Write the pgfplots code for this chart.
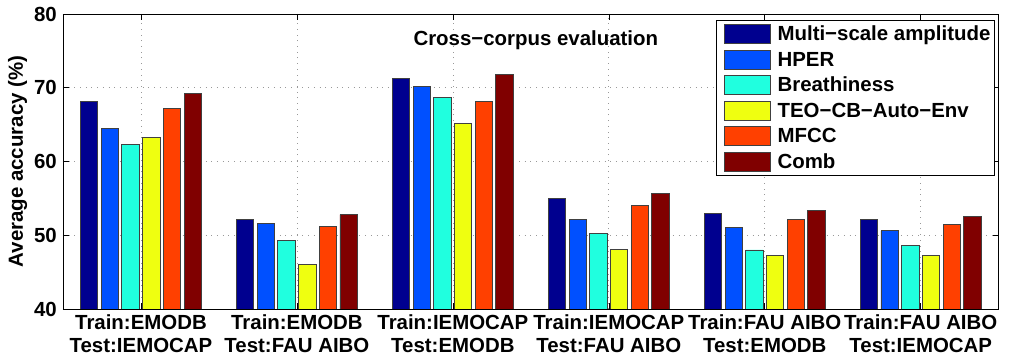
\documentclass[border=0pt]{standalone}
\usepackage{fontspec}
\setmainfont{Liberation Sans}
\usepackage{pgfplots}
\pgfplotsset{compat=1.18}

\definecolor{cMulti}{RGB}{0,0,143}
\definecolor{cHPER}{RGB}{0,80,255}
\definecolor{cBreath}{RGB}{32,255,223}
\definecolor{cTEO}{RGB}{239,255,16}
\definecolor{cMFCC}{RGB}{255,64,0}
\definecolor{cComb}{RGB}{128,0,0}

\newcommand{\lblfont}{\bfseries\fontsize{20.5}{23}\selectfont}

\begin{document}
\begin{tikzpicture}
\useasboundingbox (-63bp,-51bp) rectangle (949bp,309bp);
\begin{axis}[
  at={(0,0)}, anchor=south west,
  scale only axis,
  width=935.7bp, height=295bp,
  xmin=-0.5, xmax=5.5,
  ymin=40, ymax=80,
  xtick={0,1,2,3,4,5},
  xticklabels={{Train:EMODB\\Test:IEMOCAP},{Train:EMODB\\Test:FAU AIBO},{Train:IEMOCAP\\Test:EMODB},{Train:IEMOCAP\\Test:FAU AIBO},{Train:FAU AIBO\\Test:EMODB},{Train:FAU AIBO\\Test:IEMOCAP}},
  ytick={40,50,60,70,80},
  tick align=inside, tick pos=both,
  major tick length=6bp,
  tick style={black, line width=0.6bp},
  axis line style={black, line width=0.8bp},
  xmajorgrids, ymajorgrids,
  grid style={gray!80, line width=0.7bp, dash pattern=on 0.7bp off 5bp},
  /pgf/number format/assume math mode=true,
  ticklabel style={font=\lblfont},
  xticklabel style={align=center, inner sep=0pt, yshift=-6bp},
  yticklabel style={inner sep=0pt, xshift=-6bp},
  ylabel={Average accuracy (\%)},
  ylabel style={font=\lblfont, at={(axis description cs:-0.0486,0.5)}, anchor=center},
  legend style={
    at={(rel axis cs:0.9955,0.9797)}, anchor=north east,
    draw=black, line width=0.8bp, fill=white,
    font=\lblfont, row sep=5.6bp,
    inner xsep=0.5bp, inner ysep=4bp,
    nodes={inner xsep=3.2bp, inner ysep=0bp},
  },
  legend cell align=left,
  legend image code/.code={%
    \path (0bp,0bp) (57bp,0bp);
    \draw[#1] (7.8bp,-9.5bp) rectangle (53.8bp,9.5bp);},
  every axis plot/.append style={draw=black!75, line width=0.9bp},
]
\addplot[ybar, bar width=0.112, bar shift=-0.332, fill=cMulti] coordinates {(0,68.2) (1,52.1) (2,71.2) (3,55.0) (4,53.0) (5,52.2)};
\addlegendentry{Multi−scale amplitude}
\addplot[ybar, bar width=0.112, bar shift=-0.199, fill=cHPER] coordinates {(0,64.5) (1,51.6) (2,70.2) (3,52.2) (4,51.0) (5,50.6)};
\addlegendentry{HPER}
\addplot[ybar, bar width=0.112, bar shift=-0.066, fill=cBreath] coordinates {(0,62.3) (1,49.3) (2,68.7) (3,50.2) (4,48.0) (5,48.6)};
\addlegendentry{Breathiness}
\addplot[ybar, bar width=0.112, bar shift=0.066, fill=cTEO] coordinates {(0,63.2) (1,46.0) (2,65.2) (3,48.1) (4,47.2) (5,47.3)};
\addlegendentry{TEO−CB−Auto−Env}
\addplot[ybar, bar width=0.112, bar shift=0.199, fill=cMFCC] coordinates {(0,67.2) (1,51.2) (2,68.2) (3,54.1) (4,52.2) (5,51.4)};
\addlegendentry{MFCC}
\addplot[ybar, bar width=0.112, bar shift=0.332, fill=cComb] coordinates {(0,69.2) (1,52.8) (2,71.8) (3,55.6) (4,53.4) (5,52.6)};
\addlegendentry{Comb}
\node[font=\lblfont, anchor=base, xshift=5bp, yshift=-32bp] at (rel axis cs:0.5,1) {Cross−corpus evaluation};
\end{axis}
\end{tikzpicture}
\end{document}
